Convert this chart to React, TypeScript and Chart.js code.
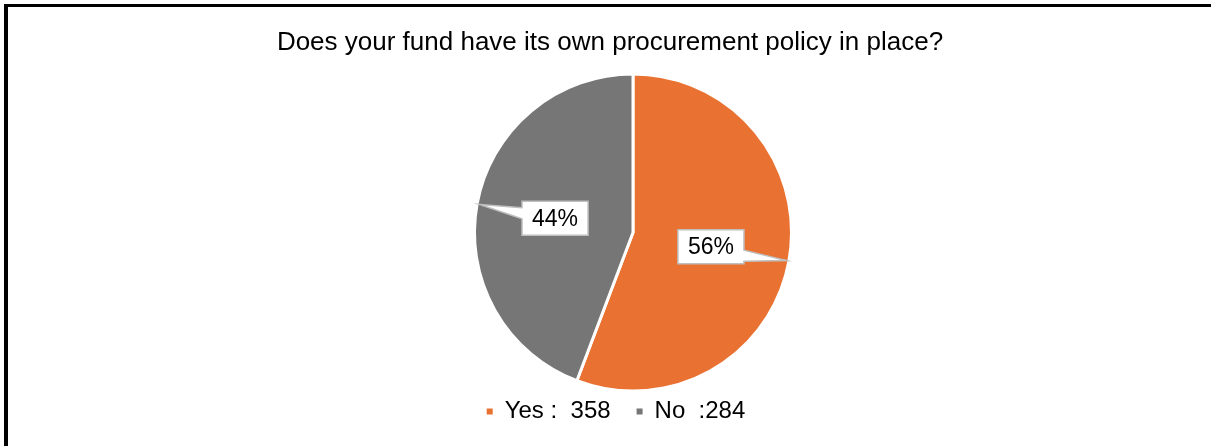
import React, { useEffect, useRef } from 'react';
import { Chart, registerables, layouts } from 'chart.js';

Chart.register(...registerables);

const TITLE = 'Does your fund have its own procurement policy in place?';
const CATEGORIES = ['Yes :  358', 'No  :284'];
const VALUES = [358, 284];
const COLORS = ['#E97132', '#767676'];

const FONT = "'Liberation Sans', Arial, sans-serif";

const leftSpacer = {
  id: 'leftSpacer',
  beforeInit(chart: any) {
    const box: any = {
      position: 'left',
      weight: 100,
      fullSize: false,
      options: {},
      width: 0,
      height: 0,
      left: 0,
      right: 0,
      top: 0,
      bottom: 0,
      isHorizontal() {
        return false;
      },
      update(_maxWidth: number, maxHeight: number) {
        this.width = 46;
        this.height = maxHeight;
      },
      draw() {},
    };
    layouts.addBox(chart, box);
  },
  afterLayout(chart: any) {
    if (chart.legend) {
      chart.legend.left += 6;
      chart.legend.right += 6;
      chart.legend.top += 1;
      chart.legend.bottom += 1;
    }
  },
};

const calloutPlugin = {
  id: 'callouts',
  afterDatasetsDraw(chart: any) {
    const ctx = chart.ctx;
    const meta = chart.getDatasetMeta(0);
    const data = chart.data.datasets[0].data as number[];
    const total = data.reduce((a, b) => a + b, 0);
    ctx.save();
    ctx.font = `23px ${FONT}`;
    meta.data.forEach((arc: any, i: number) => {
      const { x, y, startAngle, endAngle, outerRadius } = arc.getProps(
        ['x', 'y', 'startAngle', 'endAngle', 'outerRadius'],
        true
      );
      const mid = (startAngle + endAngle) / 2;
      const tipR = outerRadius - 2.5;
      const tx = x + Math.cos(mid) * tipR;
      const ty = y + Math.sin(mid) * tipR;
      const cx = x + Math.cos(mid) * outerRadius * 0.5;
      const cy = y + Math.sin(mid) * outerRadius * 0.5;
      const text = Math.round((data[i] / total) * 100) + '%';
      const tw = ctx.measureText(text).width;
      const w = tw + 20;
      const h = 34;
      const L = cx - w / 2;
      const R = cx + w / 2;
      const T = cy - h / 2;
      const B = cy + h / 2;
      const bc = Math.min(Math.max(ty, T + 12), B - 8);
      const b1 = bc - 5.5;
      const b2 = bc + 5.5;
      ctx.beginPath();
      if (tx > R) {
        ctx.moveTo(L, T);
        ctx.lineTo(R, T);
        ctx.lineTo(R, b1);
        ctx.lineTo(tx, ty);
        ctx.lineTo(R, b2);
        ctx.lineTo(R, B);
        ctx.lineTo(L, B);
      } else {
        ctx.moveTo(L, T);
        ctx.lineTo(R, T);
        ctx.lineTo(R, B);
        ctx.lineTo(L, B);
        ctx.lineTo(L, b2);
        ctx.lineTo(tx, ty);
        ctx.lineTo(L, b1);
      }
      ctx.closePath();
      ctx.fillStyle = '#ffffff';
      ctx.fill();
      ctx.strokeStyle = '#BFBFBF';
      ctx.lineWidth = 1.5;
      ctx.lineJoin = 'miter';
      ctx.stroke();
      ctx.fillStyle = '#000000';
      ctx.textAlign = 'center';
      ctx.textBaseline = 'middle';
      ctx.fillText(text, cx, cy + 1);
    });
    ctx.restore();
  },
};

export default function App() {
  const canvasRef = useRef<HTMLCanvasElement | null>(null);

  useEffect(() => {
    document.body.style.margin = '0';
    const canvas = canvasRef.current;
    if (!canvas) return;
    Chart.defaults.font.family = FONT;
    const chart = new Chart(canvas, {
      type: 'pie',
      data: {
        labels: CATEGORIES,
        datasets: [
          {
            data: VALUES,
            backgroundColor: COLORS,
            borderColor: '#ffffff',
            borderWidth: 3,
            radius: 158.5,
          } as any,
        ],
      },
      options: {
        responsive: false,
        animation: false,
        devicePixelRatio: 1,
        layout: { padding: { left: 9, right: 0, top: 0, bottom: 13.5 } },
        plugins: {
          title: {
            display: true,
            text: TITLE,
            color: '#000000',
            font: { size: 26, weight: 'normal', family: FONT },
            padding: { top: 27.4, bottom: 33.9 },
          },
          legend: {
            display: true,
            position: 'bottom',
            labels: {
              color: '#000000',
              font: { size: 24, family: FONT },
              boxWidth: 6,
              boxHeight: 6,
              padding: 26,
              generateLabels: () =>
                CATEGORIES.map((t, i) => ({
                  text: t,
                  fillStyle: COLORS[i],
                  strokeStyle: COLORS[i],
                  lineWidth: 0,
                  hidden: false,
                  index: i,
                  datasetIndex: 0,
                })),
            },
          },
          tooltip: { enabled: false },
        },
      } as any,
      plugins: [leftSpacer, calloutPlugin],
    });
    return () => chart.destroy();
  }, []);

  return (
    <div style={{ position: 'relative', width: 1211, height: 446, background: '#ffffff' }}>
      <canvas
        ref={canvasRef}
        width={1211}
        height={446}
        style={{ position: 'absolute', left: 0, top: 0, width: 1211, height: 446 }}
      />
      <div
        style={{
          position: 'absolute',
          left: 4,
          top: 4,
          right: 0,
          bottom: 0,
          borderTop: '3px solid #000',
          borderLeft: '4px solid #000',
          pointerEvents: 'none',
        }}
      />
    </div>
  );
}
